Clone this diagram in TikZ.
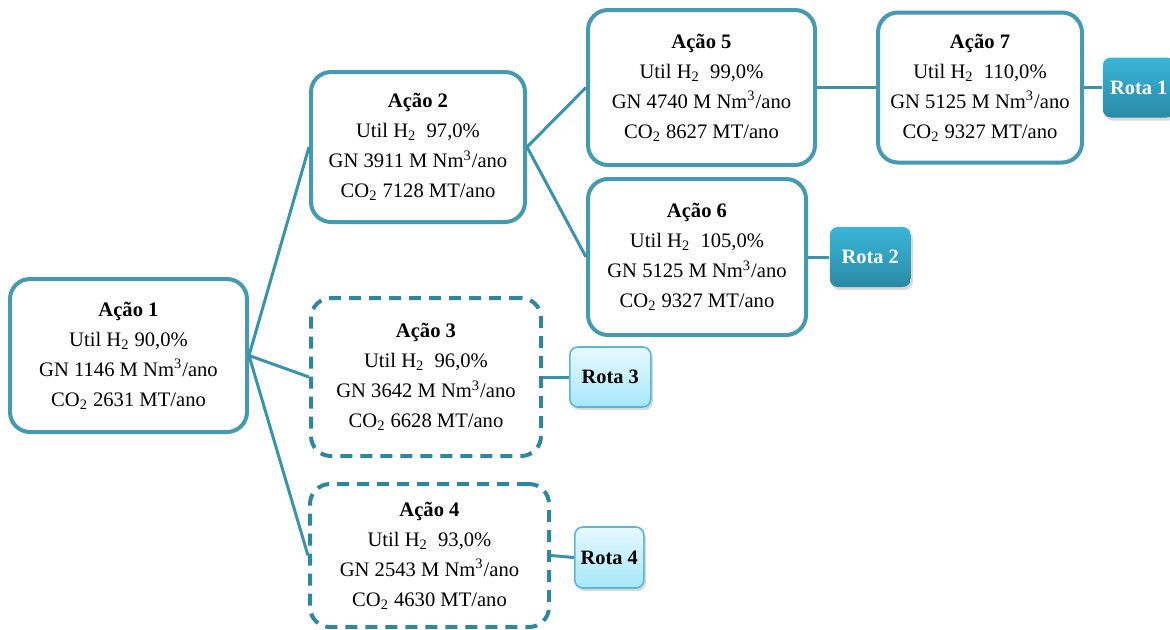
\documentclass[tikz,border=0pt]{standalone}
\usepackage{fontspec}
\setmainfont{Liberation Serif}
\usetikzlibrary{shadows}
\usepackage{xcolor}

\definecolor{boxline}{HTML}{4599B1}
\definecolor{dashline}{HTML}{31859C}
\definecolor{linkline}{HTML}{3A93AB}
\definecolor{rotadarktop}{HTML}{3AB6D9}
\definecolor{rotadarkbot}{HTML}{2A8AA5}
\definecolor{rotalighttop}{HTML}{E8F9FE}
\definecolor{rotalightbot}{HTML}{A6E7F9}
\definecolor{rotalightline}{HTML}{5AB8D4}

\begin{document}
\begin{tikzpicture}[x=0.5pt,y=-0.5pt,thick,
  acao/.style={draw=boxline,line width=2pt,rounded corners=10pt,fill=white,
    align=center,inner sep=0pt,font=\fontsize{10.3}{15}\selectfont},
  acaodash/.style={acao,draw=dashline,dash pattern=on 6pt off 4pt},
  rota/.style={rounded corners=4pt,inner sep=0pt,minimum height=30pt,
    font=\fontsize{10.2}{12}\selectfont\bfseries,
    drop shadow={shadow xshift=1pt,shadow yshift=-1.5pt,opacity=0.3}},
  rotadark/.style={rota,top color=rotadarktop,bottom color=rotadarkbot,text=white},
  rotalight/.style={rota,draw=rotalightline,line width=0.8pt,
    top color=rotalighttop,bottom color=rotalightbot},
  link/.style={draw=linkline,line width=1.5pt}]
\useasboundingbox (0,0) rectangle (1170,629);

\node [acao,minimum width=118.5pt,minimum height=76.5pt] (acao1) at (128.5,355.5)
  {\textbf{Ação 1}\\Util H\textsubscript{2} 90,0\%\\GN 1146 M Nm\textsuperscript{3}/ano\\CO\textsubscript{2} 2631 MT/ano};
\node [acao,minimum width=107pt,minimum height=75pt] (acao2) at (418,147)
  {\textbf{Ação 2}\\Util H\textsubscript{2}\ \ 97,0\%\\GN 3911 M Nm\textsuperscript{3}/ano\\CO\textsubscript{2} 7128 MT/ano};
\node [acaodash,minimum width=115pt,minimum height=79pt] (acao3) at (426,377)
  {\textbf{Ação 3}\\Util H\textsubscript{2}\ \ 96,0\%\\GN 3642 M Nm\textsuperscript{3}/ano\\CO\textsubscript{2} 6628 MT/ano};
\node [acaodash,minimum width=119.5pt,minimum height=71.5pt] (acao4) at (429.5,555.5)
  {\textbf{Ação 4}\\Util H\textsubscript{2}\ \ 93,0\%\\GN 2543 M Nm\textsuperscript{3}/ano\\CO\textsubscript{2} 4630 MT/ano};
\node [acao,minimum width=113.5pt,minimum height=77.5pt] (acao5) at (701.5,87.5)
  {\textbf{Ação 5}\\Util H\textsubscript{2}\ \ 99,0\%\\GN 4740 M Nm\textsuperscript{3}/ano\\CO\textsubscript{2} 8627 MT/ano};
\node [acao,minimum width=109pt,minimum height=78pt] (acao6) at (697,257)
  {\textbf{Ação 6}\\Util H\textsubscript{2}\ \ 105,0\%\\GN 5125 M Nm\textsuperscript{3}/ano\\CO\textsubscript{2} 9327 MT/ano};
\node [acao,minimum width=102pt,minimum height=75pt] (acao7) at (980,87.5)
  {\textbf{Ação 7}\\Util H\textsubscript{2}\ \ 110,0\%\\GN 5125 M Nm\textsuperscript{3}/ano\\CO\textsubscript{2} 9327 MT/ano};

\node [rotadark,minimum width=36pt,right=9pt,at=(acao7.east)] (rota1) {Rota 1};
\node [rotadark,minimum width=40.5pt,right=10.5pt,at=(acao6.east)] (rota2) {Rota 2};
\node [rotalight,minimum width=40.5pt,right=13pt,at=(acao3.east)] (rota3) {Rota 3};
\node [rotalight,minimum width=34.5pt,minimum height=30.5pt,right=11.5pt,at=(acao4.east),yshift=-1pt] (rota4) {Rota 4};

\draw [link] (acao1.east) -- (acao2.west);
\draw [link] (acao1.east) -- (acao3.west);
\draw [link] (acao1.east) -- (acao4.west);
\draw [link] (acao2.east) -- (acao5.west);
\draw [link] (acao2.east) -- (acao6.west);
\draw [link] (acao5.east) -- (acao7.west);
\draw [link] (acao7.east) -- (rota1.west);
\draw [link] (acao6.east) -- (rota2.west);
\draw [link] (acao3.east) -- (rota3.west);
\draw [link] (acao4.east) -- (rota4.west);
\end{tikzpicture}
\end{document}
